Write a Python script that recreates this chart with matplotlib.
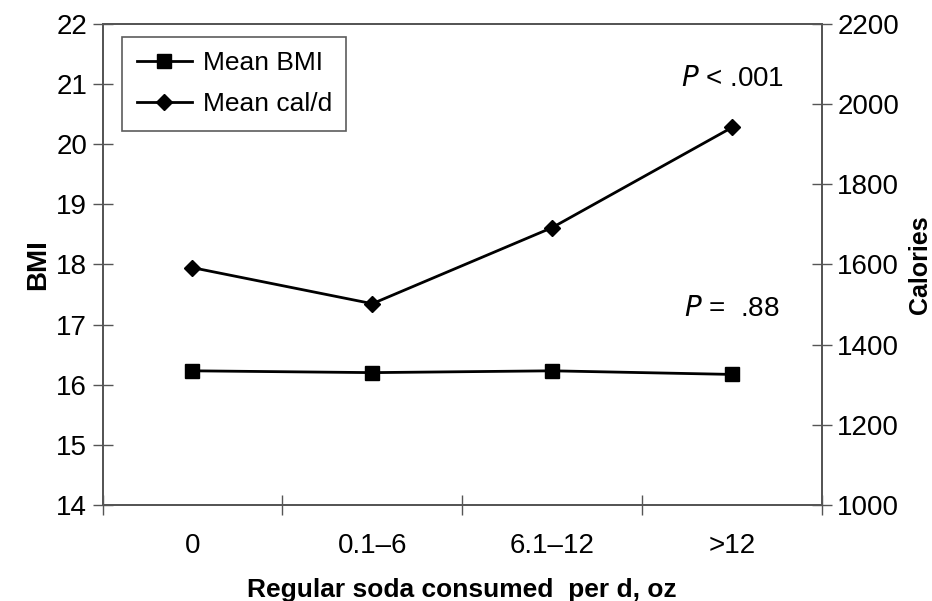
import matplotlib
matplotlib.use("Agg")
import matplotlib.pyplot as plt
from matplotlib.lines import Line2D

plt.rcParams['font.family'] = ['Liberation Sans', 'DejaVu Sans']

# data
categories = ['0', '0.1\u20136', '6.1\u201312', '>12']
mean_bmi = [16.23, 16.20, 16.23, 16.17]
mean_cal = [1592, 1502, 1692, 1942]

bmi_ticks = [14, 15, 16, 17, 18, 19, 20, 21, 22]
cal_ticks = [1000, 1200, 1400, 1600, 1800, 2000, 2200]

fig = plt.figure(figsize=(9.32, 6.01), dpi=100)
ax = fig.add_axes((0.110, 0.160, 0.772, 0.800))
ax2 = ax.twinx()

x = list(range(len(categories)))

ax.plot(x, mean_bmi, color='black', lw=2, marker='s', ms=10, label='Mean BMI')
ax2.plot(x, mean_cal, color='black', lw=2, marker='D', ms=8, label='Mean cal/d')

ax.set_xlim(-0.5, len(categories) - 0.5)
ax.set_ylim(14, 22)
ax2.set_ylim(1000, 2200)
ax.set_yticks(bmi_ticks)
ax2.set_yticks(cal_ticks)

# category boundaries get tick marks, labels sit at the centres
ax.set_xticks([i - 0.5 for i in range(len(categories) + 1)])
ax.set_xticklabels([])
ax.set_xticks(x, minor=True)
ax.set_xticklabels(categories, minor=True)
ax.tick_params(axis='x', which='minor', length=0, pad=20, labelsize=20)
ax.tick_params(axis='x', which='major', direction='inout', length=14, width=1, color='#555555')
ax.tick_params(axis='y', direction='inout', length=14, width=1, color='#555555', labelsize=20, pad=4)
ax2.tick_params(axis='y', direction='inout', length=14, width=1, color='#555555', labelsize=20, pad=4)

for a in (ax, ax2):
    for s in a.spines.values():
        s.set_color('#555555')
        s.set_linewidth(1.3)

ax.set_ylabel('BMI', fontsize=20, fontweight='bold', labelpad=4)
ax2.set_ylabel('Calories', fontsize=18, fontweight='bold', labelpad=6)
ax.set_xlabel('Regular soda consumed  per d, oz', fontsize=19, fontweight='bold', labelpad=14)

ax2.text(3.0, 2062, r'$\it{P}$ < .001', fontsize=20, ha='center', va='center')
ax2.text(3.0, 1488, r'$\it{P}$ =  .88', fontsize=20, ha='center', va='center')

handles = [
    Line2D([], [], color='black', lw=2, marker='s', ms=10),
    Line2D([], [], color='black', lw=2, marker='D', ms=8),
]
leg = ax.legend(handles, ['Mean BMI', 'Mean cal/d'], loc='upper left',
                bbox_to_anchor=(0.02, 0.985), fontsize=19, frameon=True,
                fancybox=False, edgecolor='#333333', handlelength=2.1,
                borderpad=0.55, labelspacing=0.65, handletextpad=0.4,
                borderaxespad=0.2)
leg.get_frame().set_linewidth(1.2)

fig.savefig('out.png', dpi=100)
